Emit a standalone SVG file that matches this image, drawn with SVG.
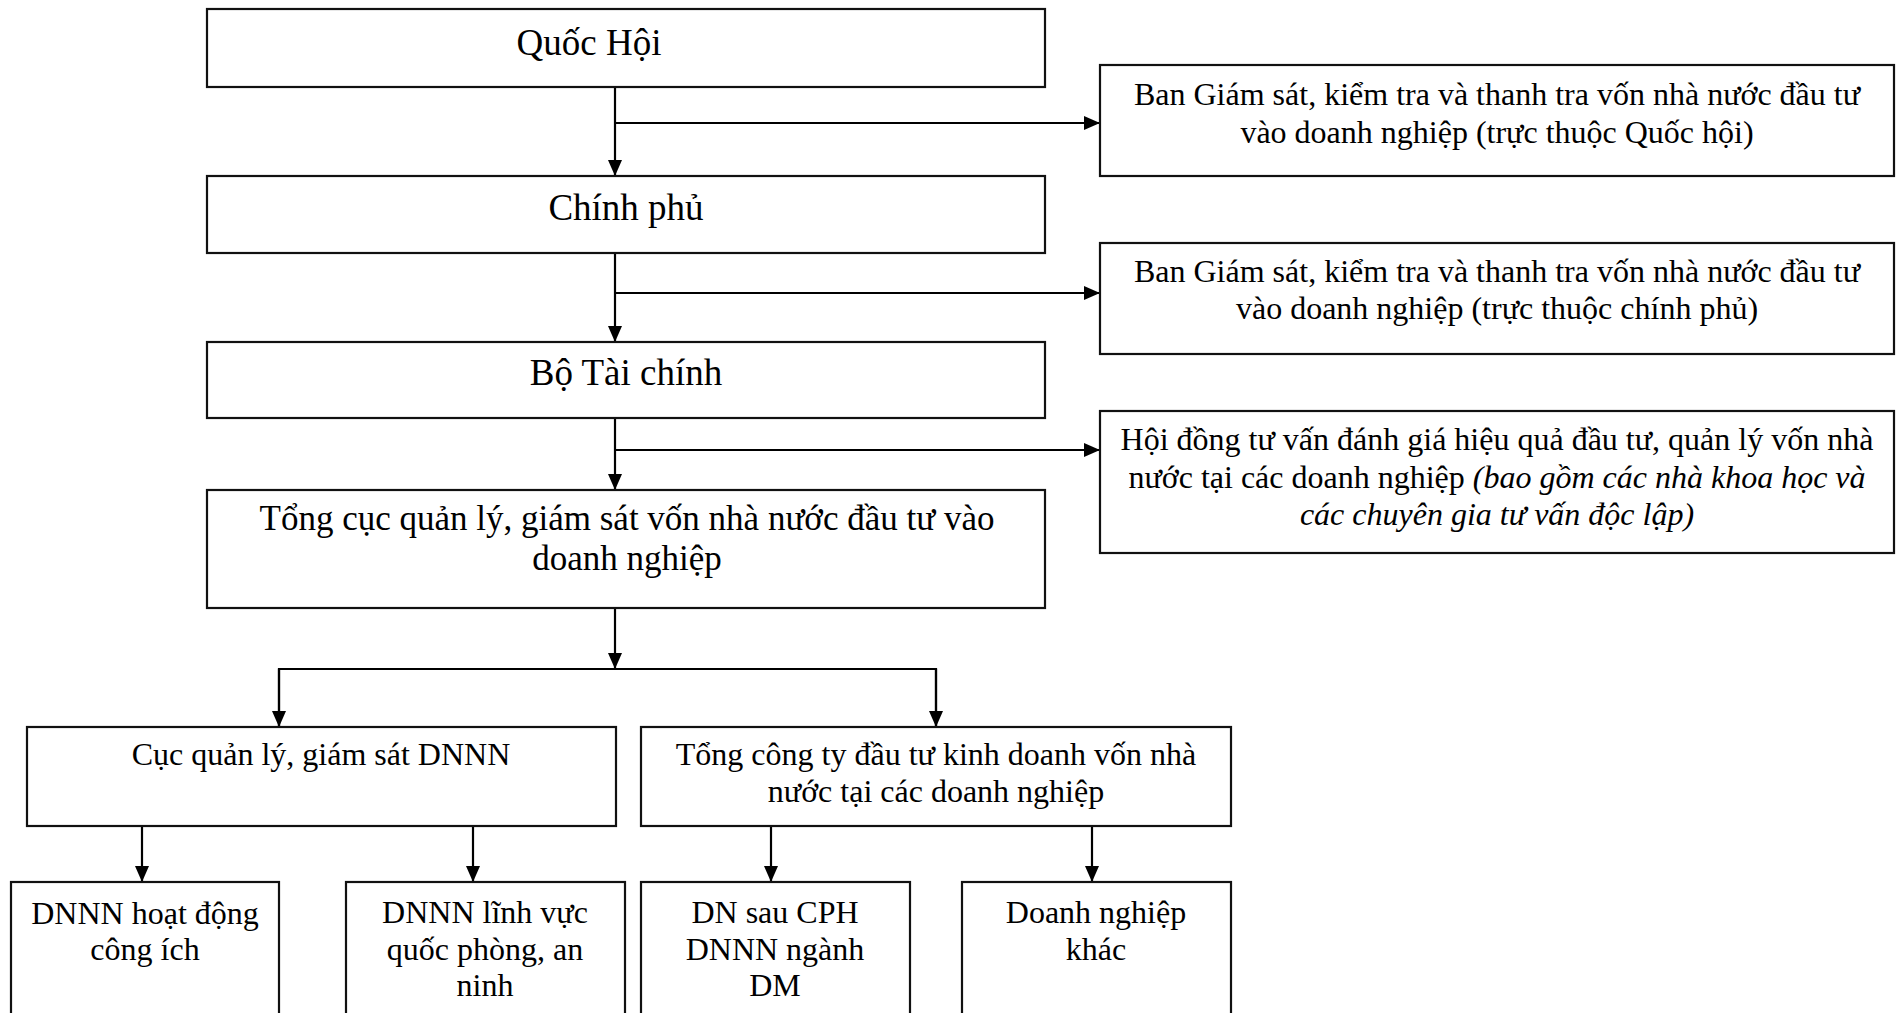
<svg xmlns="http://www.w3.org/2000/svg" width="1897" height="1013" viewBox="0 0 1897 1013">
<style>
.box{fill:#fff;stroke:#111;stroke-width:2.2}
.t{font-family:"Liberation Serif","Times New Roman",serif;fill:#000;text-anchor:middle}
.big{font-size:37px}
.mid{font-size:35px}
.sm{font-size:32px}
.it{font-style:italic}
.ln{fill:none;stroke:#000;stroke-width:2.2}
</style>
<defs>
<marker id="ah" viewBox="0 0 16 14" refX="16" refY="7" markerWidth="16" markerHeight="14" markerUnits="userSpaceOnUse" orient="auto">
<path d="M0,0 L16,7 L0,14 Z" fill="#000"/>
</marker>
</defs>
<rect width="1897" height="1013" fill="#fff"/>
<g id="connectors">
<line class="ln" x1="615" y1="87" x2="615" y2="176" marker-end="url(#ah)"/>
<line class="ln" x1="615" y1="123" x2="1100" y2="123" marker-end="url(#ah)"/>
<line class="ln" x1="615" y1="253" x2="615" y2="342" marker-end="url(#ah)"/>
<line class="ln" x1="615" y1="293" x2="1100" y2="293" marker-end="url(#ah)"/>
<line class="ln" x1="615" y1="418" x2="615" y2="490" marker-end="url(#ah)"/>
<line class="ln" x1="615" y1="450" x2="1100" y2="450" marker-end="url(#ah)"/>
<line class="ln" x1="615" y1="608" x2="615" y2="669" marker-end="url(#ah)"/>
<polyline class="ln" points="279,727 279,669 936,669 936,727"/>
<line class="ln" x1="279" y1="669" x2="279" y2="727" marker-end="url(#ah)"/>
<line class="ln" x1="936" y1="669" x2="936" y2="727" marker-end="url(#ah)"/>
<line class="ln" x1="142" y1="826" x2="142" y2="882" marker-end="url(#ah)"/>
<line class="ln" x1="473" y1="826" x2="473" y2="882" marker-end="url(#ah)"/>
<line class="ln" x1="771" y1="826" x2="771" y2="882" marker-end="url(#ah)"/>
<line class="ln" x1="1092" y1="826" x2="1092" y2="882" marker-end="url(#ah)"/>
</g>
<g id="quoc-hoi">
<rect class="box" x="207" y="9" width="838" height="78"/>
<text class="t big" x="589" y="55">Quốc Hội</text>
</g>
<g id="chinh-phu">
<rect class="box" x="207" y="176" width="838" height="77"/>
<text class="t big" x="626" y="220">Chính phủ</text>
</g>
<g id="bo-tai-chinh">
<rect class="box" x="207" y="342" width="838" height="76"/>
<text class="t big" x="626" y="385">Bộ Tài chính</text>
</g>
<g id="tong-cuc">
<rect class="box" x="207" y="490" width="838" height="118"/>
<text class="t mid" x="627" y="530">Tổng cục quản lý, giám sát vốn nhà nước đầu tư vào</text>
<text class="t mid" x="627" y="570">doanh nghiệp</text>
</g>
<g id="ban-gs-qh">
<rect class="box" x="1100" y="65" width="794" height="111"/>
<text class="t sm" x="1497" y="105">Ban Giám sát, kiểm tra và thanh tra vốn nhà nước đầu tư</text>
<text class="t sm" x="1497" y="143">vào doanh nghiệp (trực thuộc Quốc hội)</text>
</g>
<g id="ban-gs-cp">
<rect class="box" x="1100" y="243" width="794" height="111"/>
<text class="t sm" x="1497" y="282">Ban Giám sát, kiểm tra và thanh tra vốn nhà nước đầu tư</text>
<text class="t sm" x="1497" y="319">vào doanh nghiệp (trực thuộc chính phủ)</text>
</g>
<g id="hoi-dong">
<rect class="box" x="1100" y="411" width="794" height="142"/>
<text class="t sm" x="1497" y="450">Hội đồng tư vấn đánh giá hiệu quả đầu tư, quản lý vốn nhà</text>
<text class="t sm" x="1497" y="488">nước tại các doanh nghiệp <tspan class="it">(bao gồm các nhà khoa học và</tspan></text>
<text class="t sm it" x="1497" y="525">các chuyên gia tư vấn độc lập)</text>
</g>
<g id="cuc-ql">
<rect class="box" x="27" y="727" width="589" height="99"/>
<text class="t sm" x="321" y="765">Cục quản lý, giám sát DNNN</text>
</g>
<g id="tong-cong-ty">
<rect class="box" x="641" y="727" width="590" height="99"/>
<text class="t sm" x="936" y="765">Tổng công ty đầu tư kinh doanh vốn nhà</text>
<text class="t sm" x="936" y="802">nước tại các doanh nghiệp</text>
</g>
<g id="dnnn-cong-ich">
<rect class="box" x="11" y="882" width="268" height="150"/>
<text class="t sm" x="145" y="924">DNNN hoạt động</text>
<text class="t sm" x="145" y="960">công ích</text>
</g>
<g id="dnnn-qp">
<rect class="box" x="346" y="882" width="279" height="150"/>
<text class="t sm" x="485" y="923">DNNN lĩnh vực</text>
<text class="t sm" x="485" y="960">quốc phòng, an</text>
<text class="t sm" x="485" y="996">ninh</text>
</g>
<g id="dn-cph">
<rect class="box" x="641" y="882" width="269" height="150"/>
<text class="t sm" x="775" y="923">DN sau CPH</text>
<text class="t sm" x="775" y="960">DNNN ngành</text>
<text class="t sm" x="775" y="996">DM</text>
</g>
<g id="dn-khac">
<rect class="box" x="962" y="882" width="269" height="150"/>
<text class="t sm" x="1096" y="923">Doanh nghiệp</text>
<text class="t sm" x="1096" y="960">khác</text>
</g>
</svg>
